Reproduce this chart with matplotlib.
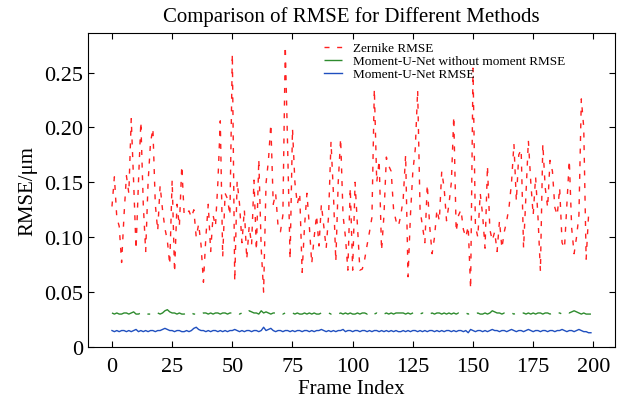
import matplotlib
matplotlib.use("Agg")
import matplotlib.pyplot as plt
import numpy as np

plt.rcParams['font.family'] = ['Liberation Serif', 'DejaVu Serif']
plt.rcParams['mathtext.fontset'] = 'stix'

frames = np.arange(200)

zernike = [
    0.128, 0.155, 0.118, 0.110, 0.077, 0.120, 0.156, 0.140, 0.208, 0.150,
    0.089, 0.150, 0.205, 0.130, 0.087, 0.150, 0.186, 0.199, 0.130, 0.106,
    0.147, 0.125, 0.108, 0.097, 0.075, 0.152, 0.068, 0.130, 0.110, 0.165,
    0.120, 0.122, 0.124, 0.118, 0.125, 0.100, 0.112, 0.093, 0.059, 0.100,
    0.130, 0.087, 0.120, 0.110, 0.150, 0.206, 0.082, 0.140, 0.135, 0.120,
    0.267, 0.060, 0.151, 0.130, 0.095, 0.125, 0.080, 0.110, 0.093, 0.152,
    0.088, 0.171, 0.090, 0.050, 0.149, 0.170, 0.203, 0.130, 0.140, 0.110,
    0.105, 0.120, 0.274, 0.180, 0.080, 0.199, 0.150, 0.130, 0.140, 0.068,
    0.110, 0.140, 0.110, 0.076, 0.100, 0.120, 0.092, 0.130, 0.110, 0.090,
    0.120, 0.187, 0.140, 0.078, 0.150, 0.190, 0.120, 0.100, 0.070, 0.145,
    0.070, 0.150, 0.110, 0.070, 0.071, 0.080, 0.093, 0.105, 0.118, 0.235,
    0.150, 0.170, 0.088, 0.120, 0.173, 0.165, 0.160, 0.125, 0.115, 0.110,
    0.120, 0.135, 0.175, 0.064, 0.120, 0.160, 0.180, 0.234, 0.125, 0.110,
    0.095, 0.148, 0.110, 0.085, 0.100, 0.125, 0.115, 0.160, 0.145, 0.115,
    0.130, 0.150, 0.210, 0.105, 0.120, 0.125, 0.107, 0.100, 0.110, 0.053,
    0.254, 0.110, 0.100, 0.140, 0.120, 0.090, 0.165, 0.107, 0.097, 0.105,
    0.087, 0.115, 0.090, 0.105, 0.115, 0.128, 0.150, 0.185, 0.133, 0.175,
    0.180, 0.090, 0.140, 0.188, 0.150, 0.120, 0.155, 0.118, 0.069, 0.185,
    0.145, 0.127, 0.170, 0.160, 0.127, 0.120, 0.145, 0.095, 0.090, 0.130,
    0.170, 0.108, 0.085, 0.100, 0.120, 0.226, 0.200, 0.080, 0.120, 0.125,
]

moment_wo = [
    0.031, 0.030, 0.031, 0.030, 0.030, 0.031, 0.031, 0.030, 0.031, 0.032,
    0.030, 0.030, 0.031, 0.030, 0.031, 0.030, 0.030, 0.031, 0.030, 0.031,
    0.030, 0.031, 0.033, 0.034, 0.032, 0.031, 0.031, 0.030, 0.031, 0.030,
    0.030, 0.031, 0.030, 0.031, 0.030, 0.030, 0.031, 0.030, 0.031, 0.031,
    0.030, 0.031, 0.030, 0.031, 0.031, 0.030, 0.031, 0.031, 0.030, 0.031,
    0.031, 0.030, 0.031, 0.030, 0.031, 0.030, 0.031, 0.033, 0.032, 0.031,
    0.031, 0.030, 0.033, 0.031, 0.032, 0.031, 0.030, 0.031, 0.031, 0.030,
    0.031, 0.030, 0.031, 0.031, 0.030, 0.031, 0.030, 0.031, 0.030, 0.030,
    0.031, 0.030, 0.031, 0.030, 0.031, 0.030, 0.030, 0.031, 0.030, 0.031,
    0.031, 0.030, 0.031, 0.030, 0.030, 0.031, 0.030, 0.031, 0.030, 0.031,
    0.030, 0.030, 0.031, 0.030, 0.031, 0.031, 0.030, 0.032, 0.031, 0.030,
    0.031, 0.030, 0.031, 0.030, 0.031, 0.030, 0.031, 0.030, 0.031, 0.031,
    0.031, 0.031, 0.030, 0.031, 0.030, 0.031, 0.032, 0.031, 0.030, 0.031,
    0.030, 0.031, 0.030, 0.031, 0.030, 0.031, 0.031, 0.030, 0.031, 0.030,
    0.031, 0.030, 0.031, 0.030, 0.031, 0.030, 0.030, 0.031, 0.030, 0.031,
    0.031, 0.030, 0.031, 0.030, 0.030, 0.031, 0.030, 0.031, 0.033, 0.032,
    0.031, 0.031, 0.030, 0.031, 0.031, 0.030, 0.031, 0.030, 0.031, 0.030,
    0.030, 0.031, 0.030, 0.031, 0.030, 0.031, 0.030, 0.031, 0.031, 0.030,
    0.031, 0.031, 0.030, 0.031, 0.032, 0.031, 0.031, 0.030, 0.031, 0.032,
    0.031, 0.032, 0.033, 0.032, 0.031, 0.030, 0.031, 0.030, 0.030, 0.030,
]

moment = [
    0.015, 0.014, 0.015, 0.014, 0.015, 0.015, 0.014, 0.015, 0.014, 0.015,
    0.016, 0.014, 0.015, 0.014, 0.015, 0.014, 0.015, 0.015, 0.014, 0.015,
    0.015, 0.016, 0.017, 0.016, 0.015, 0.015, 0.014, 0.015, 0.015, 0.014,
    0.014, 0.015, 0.014, 0.015, 0.017, 0.018, 0.016, 0.015, 0.015, 0.014,
    0.015, 0.014, 0.015, 0.015, 0.014, 0.015, 0.014, 0.015, 0.014, 0.015,
    0.015, 0.016, 0.015, 0.014, 0.015, 0.014, 0.015, 0.015, 0.014, 0.015,
    0.015, 0.014, 0.015, 0.018, 0.015, 0.016, 0.017, 0.015, 0.014, 0.015,
    0.015, 0.014, 0.015, 0.015, 0.014, 0.015, 0.014, 0.015, 0.015, 0.014,
    0.015, 0.015, 0.014, 0.015, 0.014, 0.015, 0.015, 0.016, 0.015, 0.014,
    0.015, 0.014, 0.015, 0.014, 0.015, 0.015, 0.016, 0.014, 0.015, 0.015,
    0.014, 0.015, 0.015, 0.014, 0.015, 0.015, 0.014, 0.015, 0.014, 0.015,
    0.015, 0.014, 0.015, 0.014, 0.015, 0.014, 0.015, 0.014, 0.015, 0.014,
    0.014, 0.015, 0.014, 0.015, 0.014, 0.015, 0.015, 0.014, 0.015, 0.014,
    0.015, 0.014, 0.015, 0.015, 0.014, 0.015, 0.014, 0.015, 0.014, 0.015,
    0.015, 0.014, 0.015, 0.014, 0.015, 0.015, 0.014, 0.015, 0.013, 0.016,
    0.015, 0.014, 0.015, 0.015, 0.014, 0.015, 0.014, 0.015, 0.016, 0.015,
    0.015, 0.014, 0.015, 0.015, 0.014, 0.015, 0.016, 0.015, 0.014, 0.015,
    0.015, 0.014, 0.015, 0.016, 0.015, 0.014, 0.015, 0.015, 0.014, 0.015,
    0.015, 0.014, 0.015, 0.015, 0.014, 0.015, 0.015, 0.016, 0.015, 0.014,
    0.015, 0.015, 0.014, 0.015, 0.016, 0.015, 0.014, 0.014, 0.013, 0.013,
]

fig = plt.figure(figsize=(6.23, 4.02), dpi=100)
ax = fig.add_axes([0.1413, 0.1343, 0.8457, 0.7811])

ax.plot(frames, zernike, color='#ff2020', lw=1.0, dashes=(3.6, 5.5),
        label='Zernike RMSE')
ax.plot(frames, moment_wo, color='#2e8b2e', lw=1.0, dashes=(22, 6, 2, 6),
        label='Moment-U-Net without moment RMSE')
ax.plot(frames, moment, color='#1f4fbf', lw=1.0, label='Moment-U-Net RMSE')

ax.set_ylim(0, 0.286)
ax.set_xticks([0, 25, 50, 75, 100, 125, 150, 175, 200])
ax.set_yticks([0, 0.05, 0.10, 0.15, 0.20, 0.25])
ax.set_yticklabels(['0', '0.05', '0.10', '0.15', '0.20', '0.25'])
ax.tick_params(direction='in', top=True, right=True, labelsize=16, length=4,
               width=0.8)
ax.tick_params(axis='x', pad=7)
for s in ax.spines.values():
    s.set_linewidth(0.8)

ax.set_xlabel('Frame Index', fontsize=15, labelpad=2)
ax.set_ylabel('RMSE/μm', fontsize=15, labelpad=5)
ax.set_title('Comparison of RMSE for Different Methods', fontsize=15, pad=9)

leg = ax.legend(loc='upper left', bbox_to_anchor=(0.43, 1.0), frameon=False,
                fontsize=9.5, handlelength=1.4, handletextpad=0.8,
                labelspacing=0.05, borderaxespad=0.3)

fig.savefig('out.png', dpi=100)
